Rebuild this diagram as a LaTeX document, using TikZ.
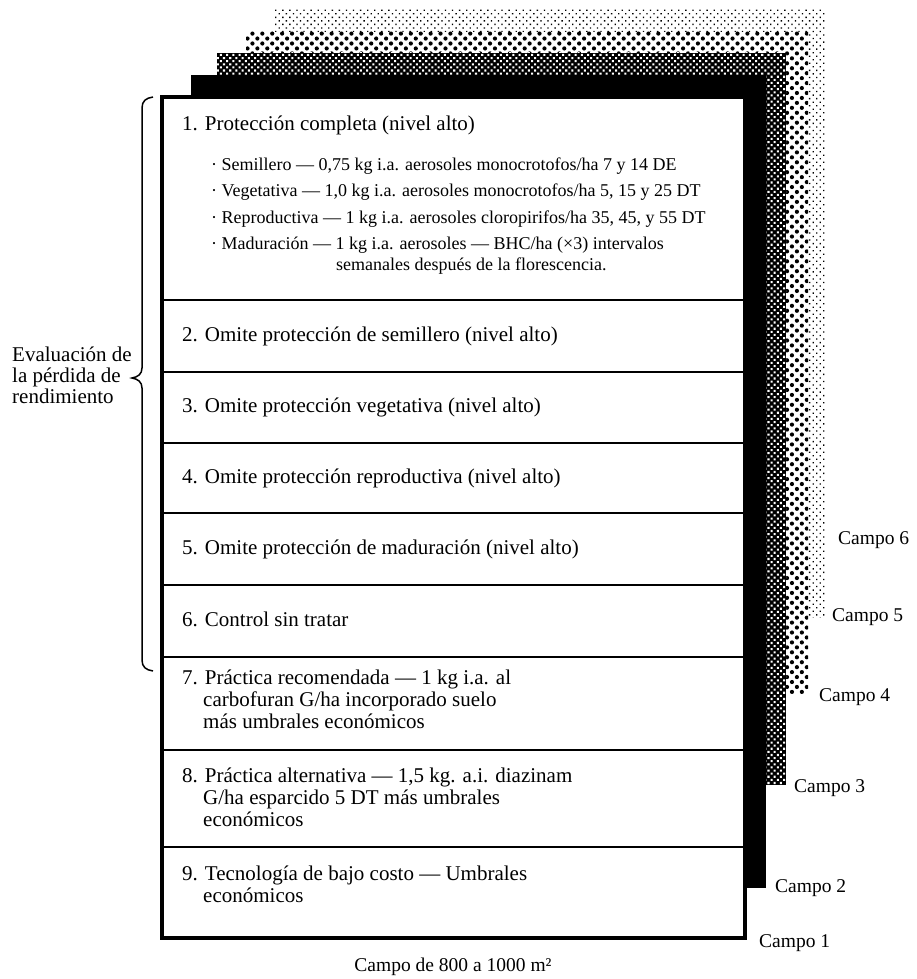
\documentclass[tikz,border=0pt]{standalone}
\usepackage{fontspec}
\setmainfont{Liberation Serif}
\usetikzlibrary{patterns.meta}

\begin{document}
\begin{tikzpicture}[x=1pt,y=-1pt,
  rowtext/.style={anchor=west, inner sep=0pt, font=\fontsize{21}{24}\selectfont, text height=14pt, text depth=4pt},
  subtext/.style={anchor=west, inner sep=0pt, font=\fontsize{18}{21}\selectfont, text height=12pt, text depth=3.5pt},
  fieldlabel/.style={anchor=west, inner sep=0pt, font=\fontsize{19.5}{22}\selectfont, text height=13pt, text depth=4pt},
  divider/.style={line width=1.4pt},
]
\useasboundingbox (0,0) rectangle (916,979);

% stacked field sheets, back to front
\fill[white] (273,9) rectangle (826,617);
\fill[pattern={Dots[distance=5pt,radius=0.95pt,angle=45]}] (273,9) rectangle (826,617);
\fill[white] (246,32) rectangle (808,693);
\fill[pattern={Dots[distance=7pt,radius=2.1pt,angle=45]}] (246,32) rectangle (808,693);
\fill[black] (217,53) rectangle (786,785);
\fill[pattern={Dots[distance=4.4pt,radius=1.45pt,angle=45]},pattern color=white] (217,53) rectangle (786,785);
\fill[black] (191,75) rectangle (766,888);

% front sheet with treatment rows
\draw[line width=3.2pt, fill=white] (162,97) rectangle (745,938);
\foreach \yy in {300,372,443,513,585,657,750,847}
  \draw[divider] (162,\yy) -- (745,\yy);

% row 1
\node[rowtext] (r1) at (182,126) {1. Protección completa (nivel alto)};
\node[subtext] (s1) at (211,166) {· Semillero — 0,75 kg i.a. aerosoles monocrotofos/ha 7 y 14 DE};
\node[subtext] (s2) at (211,192) {· Vegetativa — 1,0 kg i.a. aerosoles monocrotofos/ha 5, 15 y 25 DT};
\node[subtext] (s3) at (211,219) {· Reproductiva — 1 kg i.a. aerosoles cloropirifos/ha 35, 45, y 55 DT};
\node[subtext] (s4) at (211,245) {· Maduración — 1 kg i.a. aerosoles — BHC/ha (×3) intervalos};
\node[subtext] (s4b) at (336,266) {semanales después de la florescencia.};

% rows 2 to 6
\node[rowtext] (r2) at (182,336) {2. Omite protección de semillero (nivel alto)};
\node[rowtext] (r3) at (182,407) {3. Omite protección vegetativa (nivel alto)};
\node[rowtext] (r4) at (182,478) {4. Omite protección reproductiva (nivel alto)};
\node[rowtext] (r5) at (182,549) {5. Omite protección de maduración (nivel alto)};
\node[rowtext] (r6) at (182,621) {6. Control sin tratar};

% rows 7 to 9
\node[rowtext] (r7a) at (182,679) {7. Práctica recomendada — 1 kg i.a. al};
\node[rowtext] (r7b) at (182,701) {\phantom{7.\ }carbofuran G/ha incorporado suelo};
\node[rowtext] (r7c) at (182,723) {\phantom{7.\ }más umbrales económicos};
\node[rowtext] (r8a) at (182,777) {8. Práctica alternativa — 1,5 kg. a.i. diazinam};
\node[rowtext] (r8b) at (182,799) {\phantom{8.\ }G/ha esparcido 5 DT más umbrales};
\node[rowtext] (r8c) at (182,821) {\phantom{8.\ }económicos};
\node[rowtext] (r9a) at (182,875) {9. Tecnología de bajo costo — Umbrales};
\node[rowtext] (r9b) at (182,897) {\phantom{9.\ }económicos};

% brace and its label
\draw[line width=1.5pt] (153,97) .. controls (146,98) and (142,101) .. (142,108)
  -- (142,368) .. controls (142,374) and (138,377) .. (132,378)
  .. controls (138,379) and (142,382) .. (142,388)
  -- (142,660) .. controls (142,667) and (146,670) .. (153,671);
\node[rowtext] (ev1) at (12,356) {Evaluación de};
\node[rowtext] (ev2) at (12,377) {la pérdida de};
\node[rowtext] (ev3) at (12,398) {rendimiento};

% field labels
\node[fieldlabel] (c6) at (838,540) {Campo 6};
\node[fieldlabel] (c5) at (832,617) {Campo 5};
\node[fieldlabel] (c4) at (819,697) {Campo 4};
\node[fieldlabel] (c3) at (794,788) {Campo 3};
\node[fieldlabel] (c2) at (775,888) {Campo 2};
\node[fieldlabel] (c1) at (759,943) {Campo 1};
\node[fieldlabel, anchor=center] (area) at (453,967) {Campo de 800 a 1000 m²};
\end{tikzpicture}
\end{document}
